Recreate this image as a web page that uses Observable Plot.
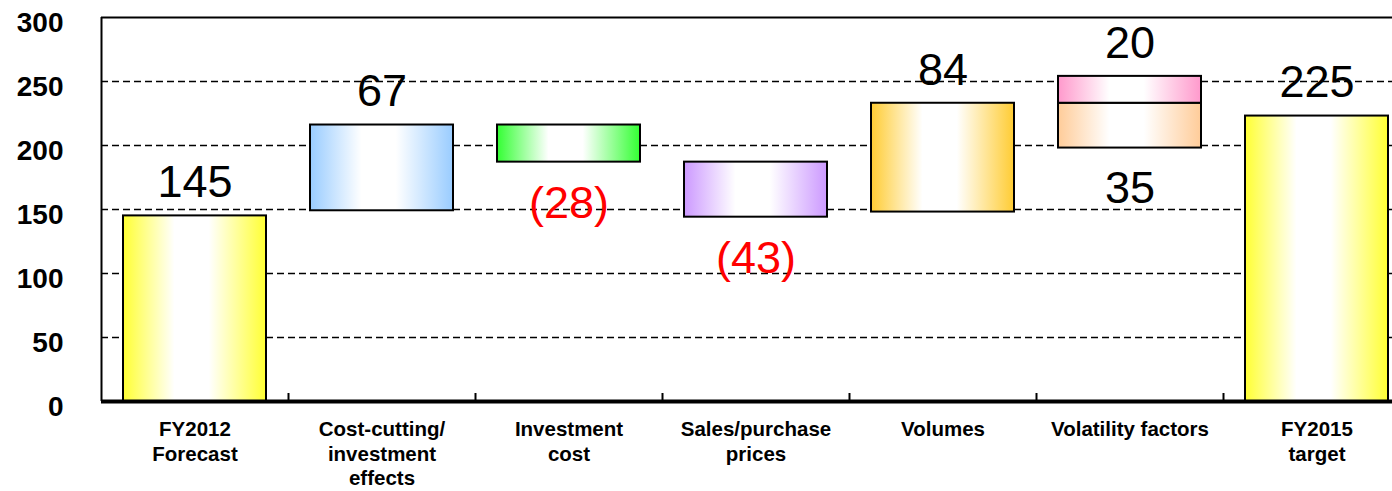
<!DOCTYPE html>
<html><head><meta charset="utf-8">
<script src="https://cdn.jsdelivr.net/npm/d3@7"></script>
<script src="https://cdn.jsdelivr.net/npm/@observablehq/plot@0.6"></script>
<style>body{margin:0;background:#fff} svg{display:block}</style>
</head><body><div id="chart"></div>
<script>
const categories = ["FY2012\nForecast", "Cost-cutting/\ninvestment\neffects", "Investment\ncost", "Sales/purchase\nprices", "Volumes", "Volatility factors", "FY2015\ntarget"];
const segCategory = [0, 1, 2, 3, 4, 5, 5, 6];
const segStart = [0, 149, 187, 144, 148, 198, 233, 0];
const segEnd = [145, 216, 216, 187, 233, 233, 254, 223];
const segColor = ["#FFFF33", "#99CCFF", "#33FF33", "#CC99FF", "#FFCC33", "#FFCC99", "#FF99CC", "#FFFF33"];
const labelText = ["145", "67", "(28)", "(43)", "84", "20", "35", "225"];
const labelCategory = [0, 1, 2, 3, 4, 5, 5, 6];
const labelValue = [145, 216, 187, 144, 233, 254, 198, 223];
const labelSide = ["above", "above", "below", "below", "above", "above", "below", "above"];
const labelColor = ["#000000", "#000000", "#FF0000", "#FF0000", "#000000", "#000000", "#000000", "#000000"];
const yTicks = [0, 50, 100, 150, 200, 250, 300];

const W = 1392, H = 491, left = 101, right = 1410;
const half = (right - left) / categories.length / 2;
const segs = segStart.map((s, i) => ({cat: categories[segCategory[i]], y1: s, y2: segEnd[i], fill: `url(#g${i})`}));
const labels = labelText.map((t, i) => ({text: t, cat: categories[labelCategory[i]], v: labelValue[i], side: labelSide[i], color: labelColor[i]}));
const font = "Arial, 'Liberation Sans', sans-serif";

const plot = Plot.plot({
  width: W, height: H,
  marginLeft: left, marginRight: 0, marginTop: 17, marginBottom: 90,
  style: {fontFamily: font, background: "white", color: "black"},
  x: {domain: categories, range: [left, right], paddingInner: 0.235, paddingOuter: 0.1175, align: 0.5},
  y: {domain: [0, 300]},
  color: {type: "identity"},
  marks: [
    Plot.ruleY(yTicks.filter(v => v > 0 && v < 300), {stroke: "#000", strokeWidth: 1.5, strokeDasharray: "7,4"}),
    Plot.ruleY([300], {stroke: "#000", strokeWidth: 2}),
    Plot.barY(segs, {x: "cat", y1: "y1", y2: "y2", fill: "fill", stroke: "#000", strokeWidth: 2}),
    Plot.ruleX([categories[0]], {x: d => d, dx: -half, stroke: "#000", strokeWidth: 2}),
    Plot.ruleX(categories.slice(1), {x: d => d, dx: -half, y1: 0, y2: 0, insetTop: -8, stroke: "#000", strokeWidth: 2}),
    Plot.ruleY([0], {stroke: "#000", strokeWidth: 4}),
    Plot.axisY({ticks: yTicks, tickSize: 0, tickPadding: 38, fontSize: 28, fontWeight: "bold", dy: 6, label: null}),
    Plot.axisX({tickSize: 0, tickPadding: 17, fontSize: 20.5, fontWeight: "bold", lineHeight: 1.2, label: null}),
    Plot.text(labels.filter(d => d.side === "above"), {x: "cat", y: "v", text: "text", fill: "color", fontSize: 45, lineAnchor: "middle", dy: -33}),
    Plot.text(labels.filter(d => d.side === "below"), {x: "cat", y: "v", text: "text", fill: "color", fontSize: 45, lineAnchor: "middle", dy: 41})
  ]
});

const defs = d3.select(plot).insert("defs", ":first-child");
segColor.forEach((c, i) => {
  const g = defs.append("linearGradient").attr("id", "g" + i)
    .attr("x1", 0).attr("x2", 1).attr("y1", 0).attr("y2", 0);
  [[0, c], [0.36, "#ffffff"], [0.6, "#ffffff"], [1, c]].forEach(([o, col]) =>
    g.append("stop").attr("offset", o).attr("stop-color", col));
});

document.getElementById("chart").appendChild(plot);
</script>
</body></html>
